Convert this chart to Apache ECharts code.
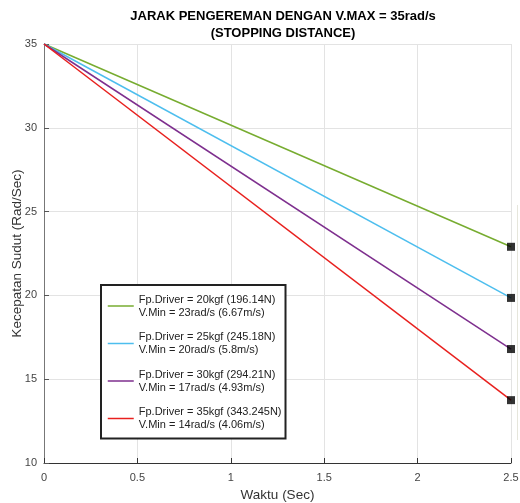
<!DOCTYPE html>
<html><head><meta charset="utf-8">
<script src="https://cdn.jsdelivr.net/npm/echarts@6/dist/echarts.min.js"></script>
<style>html,body{margin:0;padding:0;background:#fff}#c{width:520px;height:503px}</style>
</head><body><div id="c"></div>
<script>
const titleText = 'JARAK PENGEREMAN DENGAN V.MAX = 35rad/s\n(STOPPING DISTANCE)';
const xName = 'Waktu (Sec)';
const yName = 'Kecepatan Sudut (Rad/Sec)';
const times = [0, 2.5];
const startVal = 35;
const endVals = [22.9, 19.85, 16.8, 13.75];
const seriesNames = [
  'Fp.Driver = 20kgf (196.14N)\nV.Min = 23rad/s (6.67m/s)',
  'Fp.Driver = 25kgf (245.18N)\nV.Min = 20rad/s (5.8m/s)',
  'Fp.Driver = 30kgf (294.21N)\nV.Min = 17rad/s (4.93m/s)',
  'Fp.Driver = 35kgf (343.245N)\nV.Min = 14rad/s (4.06m/s)'
];
const colors = ['#77AC30', '#4DBEEE', '#7E2F8E', '#E8201E'];
const xMin = 0, xMax = 2.5, xStep = 0.5;
const yMin = 10, yMax = 35, yStep = 5;

const FONT = '"Liberation Sans", Arial, sans-serif';
const chart = echarts.init(document.getElementById('c'), null, {renderer: 'canvas'});

const lineSeries = seriesNames.map((n, i) => ({
  name: n, type: 'line', symbol: 'none', z: 3,
  lineStyle: {color: colors[i], width: 1.5},
  itemStyle: {color: colors[i]},
  data: [[times[0], startVal], [times[1], endVals[i]]]
}));
const markerSeries = {
  name: 'end', type: 'scatter', symbol: 'rect', symbolSize: 8, z: 5,
  itemStyle: {color: '#000'},
  data: endVals.map(v => [times[1], v])
};

chart.setOption({
  animation: false,
  backgroundColor: '#fff',
  textStyle: {fontFamily: FONT},
  title: {
    text: titleText, left: 278, top: 3, textAlign: 'center',
    textStyle: {fontFamily: FONT, fontSize: 13, fontWeight: 'bold', color: '#000', lineHeight: 17}
  },
  grid: {left: 44, right: 9, top: 44, bottom: 40, containLabel: false, outerBoundsMode: 'none'},
  xAxis: {
    type: 'value', min: xMin, max: xMax, interval: xStep,
    name: xName, nameLocation: 'middle', nameGap: 25,
    nameTextStyle: {fontFamily: FONT, fontSize: 13.5, color: '#333'},
    axisLine: {show: true, lineStyle: {color: '#333', width: 1}},
    axisTick: {show: true, inside: true, length: 5, lineStyle: {color: '#333'}},
    axisLabel: {fontFamily: FONT, fontSize: 11, color: '#444', margin: 9},
    splitLine: {show: true, lineStyle: {color: '#e3e3e3', width: 1}}
  },
  yAxis: {
    type: 'value', min: yMin, max: yMax, interval: yStep,
    name: yName, nameLocation: 'middle', nameGap: 20, nameMoveOverlap: false,
    nameTextStyle: {fontFamily: FONT, fontSize: 13.5, color: '#333'},
    axisLine: {show: true, lineStyle: {color: '#777', width: 1}},
    axisTick: {show: true, inside: true, length: 5, lineStyle: {color: '#555'}},
    axisLabel: {fontFamily: FONT, fontSize: 11, color: '#444', margin: 7},
    splitLine: {show: true, lineStyle: {color: '#e3e3e3', width: 1}}
  },
  legend: {
    data: seriesNames,
    orient: 'vertical', left: 101, top: 285,
    itemWidth: 26, itemHeight: 14, itemGap: 11.5,
    padding: [8, 4, 7, 6],
    borderColor: '#222', borderWidth: 2, backgroundColor: '#fff',
    itemStyle: {opacity: 0},
    lineStyle: {width: 1.5},
    textStyle: {fontFamily: FONT, fontSize: 11, color: '#222', lineHeight: 13}
  },
  graphic: [{
    type: 'line', silent: true, z: -1,
    shape: {x1: 517.5, y1: 205, x2: 517.5, y2: 440},
    style: {stroke: '#e6e6dc', lineWidth: 1}
  }],
  series: [...lineSeries, markerSeries]
});
</script></body></html>
